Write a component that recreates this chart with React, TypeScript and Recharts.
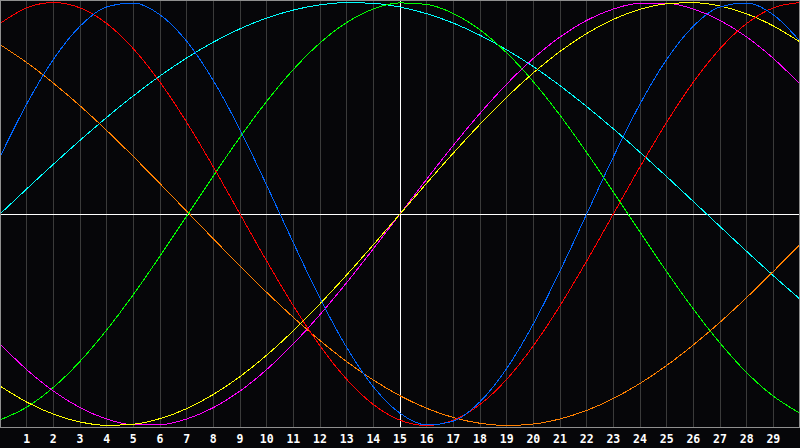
import React from 'react';
import { LineChart, Line, XAxis, YAxis, CartesianGrid, ReferenceLine } from 'recharts';

const days = [0, 1, 2, 3, 4, 5, 6, 7, 8, 9, 10, 11, 12, 13, 14, 15, 16, 17, 18, 19, 20, 21, 22, 23, 24, 25, 26, 27, 28, 29, 30];
const dayTicks = [1, 2, 3, 4, 5, 6, 7, 8, 9, 10, 11, 12, 13, 14, 15, 16, 17, 18, 19, 20, 21, 22, 23, 24, 25, 26, 27, 28, 29];

const blue = [0.2697, 0.5199, 0.7308, 0.8879, 0.9791, 0.9977, 0.9423, 0.817, 0.6311, 0.3984, 0.1362, -0.1362, -0.3984, -0.6311, -0.817, -0.9423, -0.9977, -0.9791, -0.8879, -0.7308, -0.5199, -0.2697, 0.0, 0.2697, 0.5199, 0.7308, 0.8879, 0.9791, 0.9977, 0.9423, 0.817];
const red = [0.901, 0.9749, 1.0, 0.9749, 0.901, 0.7818, 0.6235, 0.4339, 0.2225, 0.0, -0.2225, -0.4339, -0.6235, -0.7818, -0.901, -0.9749, -1.0, -0.9749, -0.901, -0.7818, -0.6235, -0.4339, -0.2225, 0.0, 0.2225, 0.4339, 0.6235, 0.7818, 0.901, 0.9749, 1.0];
const green = [-0.974, -0.9135, -0.8201, -0.6969, -0.5487, -0.381, -0.199, -0.0095, 0.18, 0.3633, 0.5328, 0.6831, 0.809, 0.9056, 0.9695, 0.9984, 0.9911, 0.9481, 0.8707, 0.762, 0.6257, 0.4669, 0.2909, 0.1045, -0.0856, -0.2726, -0.4496, -0.6102, -0.7501, -0.8614, -0.9419];
const magenta = [-0.6142, -0.7357, -0.8372, -0.9157, -0.9694, -0.9966, -0.9966, -0.9694, -0.9157, -0.8372, -0.7357, -0.6142, -0.4759, -0.3247, -0.1646, 0.0, 0.1646, 0.3247, 0.4759, 0.6142, 0.7357, 0.8372, 0.9157, 0.9694, 0.9966, 0.9966, 0.9694, 0.9157, 0.8372, 0.7357, 0.6142];
const yellow = [-0.8135, -0.8894, -0.9463, -0.9834, -0.9993, -0.994, -0.9676, -0.9205, -0.8535, -0.7687, -0.6675, -0.5518, -0.4244, -0.2881, -0.1456, 0.0, 0.1456, 0.2881, 0.4244, 0.5518, 0.6675, 0.7687, 0.8535, 0.9205, 0.9676, 0.994, 0.9993, 0.9834, 0.9463, 0.8894, 0.8135];
const orange = [0.8012, 0.7163, 0.6191, 0.5117, 0.3951, 0.2715, 0.1436, 0.0131, -0.1174, -0.2462, -0.3706, -0.4887, -0.5983, -0.6979, -0.7853, -0.8594, -0.9188, -0.9625, -0.9897, -0.9999, -0.9931, -0.9692, -0.9288, -0.8725, -0.8013, -0.7163, -0.6191, -0.5117, -0.3951, -0.2715, -0.1436];
const cyan = [0.0, 0.1183, 0.2349, 0.3482, 0.4566, 0.5586, 0.6529, 0.738, 0.8126, 0.8758, 0.9266, 0.9645, 0.989, 0.9996, 0.9961, 0.9785, 0.9472, 0.9028, 0.8452, 0.7766, 0.6971, 0.6068, 0.508, 0.403, 0.2918, 0.1768, 0.0592, -0.0592, -0.1768, -0.2918, -0.403];

const data = days.map((d, i) => ({
  day: d,
  blue: blue[i],
  red: red[i],
  green: green[i],
  magenta: magenta[i],
  yellow: yellow[i],
  orange: orange[i],
  cyan: cyan[i],
}));

const series: { key: string; color: string }[] = [
  { key: 'cyan', color: '#00ffff' },
  { key: 'orange', color: '#ff8000' },
  { key: 'green', color: '#00ff00' },
  { key: 'magenta', color: '#ff00ff' },
  { key: 'yellow', color: '#ffff00' },
  { key: 'red', color: '#ff0000' },
  { key: 'blue', color: '#0066ff' },
];

const css = `
.recharts-cartesian-grid line, .recharts-reference-line line, .recharts-line-curve { shape-rendering: crispEdges; }
`;

export default function App() {
  return (
    <div style={{ position: 'absolute', left: 0, top: 0, width: 800, height: 448, background: '#060609', overflow: 'hidden' }}>
      <style>{css}</style>
      <LineChart width={800} height={448} data={data} margin={{ top: 0, right: 0, bottom: 0, left: 0 }}>
        <CartesianGrid vertical={true} horizontal={false} stroke="#3a3a3a" />
        <XAxis
          dataKey="day"
          type="number"
          domain={[0, 30]}
          ticks={dayTicks}
          interval={0}
          height={20}
          axisLine={false}
          tickLine={false}
          tickSize={6}
          tickMargin={1}
          tick={{ fill: '#ffffff', fontSize: 11.5, fontWeight: 'bold', fontFamily: 'DejaVu Sans Mono' }}
        />
        <YAxis hide type="number" domain={[-1.012, 1.012]} />
        <ReferenceLine y={0} stroke="#ffffff" strokeWidth={1} />
        <ReferenceLine x={15} stroke="#ffffff" strokeWidth={1} />
        {series.map((s) => (
          <Line
            key={s.key}
            type="monotone"
            dataKey={s.key}
            stroke={s.color}
            strokeWidth={1}
            dot={false}
            activeDot={false}
            isAnimationActive={false}
          />
        ))}
      </LineChart>
      <div style={{ position: 'absolute', left: 0, top: 0, width: 800, height: 428, boxSizing: 'border-box', border: '1px solid #8f8f8f', pointerEvents: 'none' }} />
    </div>
  );
}
